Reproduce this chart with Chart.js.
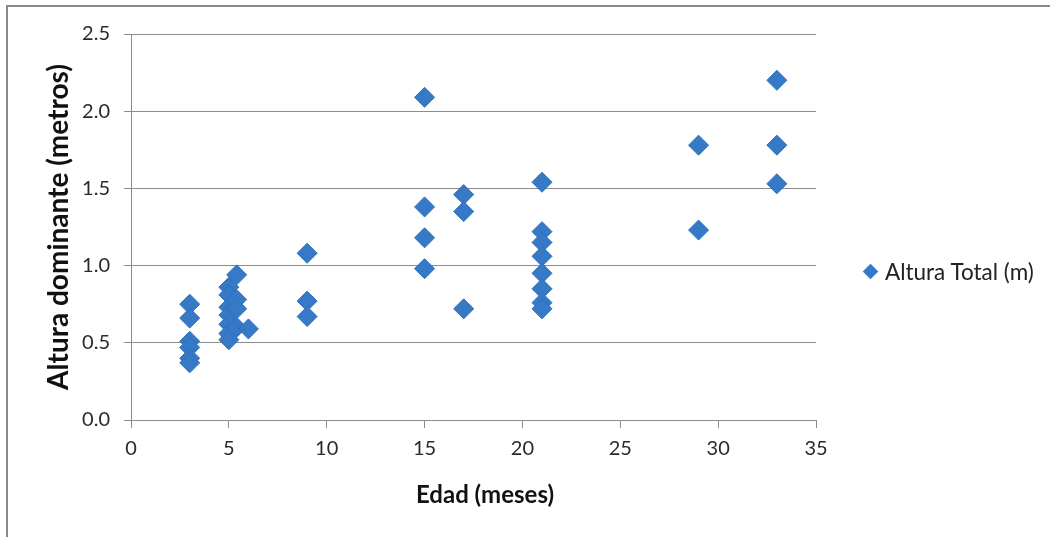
<!DOCTYPE html>
<html>
<head>
<meta charset="utf-8">
<script src="https://cdn.jsdelivr.net/npm/chart.js@4.4.0/dist/chart.umd.min.js"></script>
<style>
  html, body { margin: 0; padding: 0; background: #fff; }
  #wrap { position: relative; width: 1050px; height: 537px; overflow: hidden; }
  #frame { position: absolute; left: 6px; top: 5px; width: 1100px; height: 600px;
           border-top: 2px solid #8a8a8a; border-left: 2px solid #8a8a8a; }
  #chart { position: absolute; left: 0; top: 0; }
  #legend { position: absolute; left: 865px; top: 258px; font-family: Lato, sans-serif;
            font-size: 22.5px; color: #222; display: flex; align-items: center; }
  #legend .mark { width: 11px; height: 11px; background: #3679c6; transform: rotate(45deg);
                  margin-right: 9px; }
  #xtitle { position: absolute; left: 335px; width: 300px; top: 479px; line-height: 30px;
            text-align: center; font-family: Lato, sans-serif; font-weight: bold;
            font-size: 24px; color: #111; }
</style>
</head>
<body>
<div id="wrap">
  <div id="frame"></div>
  <canvas id="chart" width="1050" height="537"></canvas>
  <div id="legend"><div class="mark"></div><span>Altura Total (m)</span></div>
  <div id="xtitle">Edad (meses)</div>
</div>
<script>
// Edad (meses) y altura dominante (m) de cada punto
const edad = [
  3, 3, 3, 3, 3, 3,
  5, 5, 5, 5, 5, 5, 5,
  5.4, 5.4, 5.4, 5.4, 6,
  9, 9, 9,
  15, 15, 15, 15,
  17, 17, 17,
  21, 21, 21, 21, 21, 21, 21, 21,
  29, 29,
  33, 33, 33
];
const altura = [
  0.75, 0.66, 0.51, 0.47, 0.40, 0.37,
  0.86, 0.81, 0.73, 0.68, 0.62, 0.56, 0.52,
  0.94, 0.78, 0.72, 0.60, 0.59,
  1.08, 0.77, 0.67,
  2.09, 1.38, 1.18, 0.98,
  1.46, 1.35, 0.72,
  1.54, 1.22, 1.15, 1.06, 0.95, 0.85, 0.76, 0.72,
  1.78, 1.23,
  2.20, 1.78, 1.53
];
const serieNombre = 'Altura Total (m)';

const puntos = edad.map((x, i) => ({ x: x, y: altura[i] }));
const gris = '#8c8c8c';

new Chart(document.getElementById('chart').getContext('2d'), {
  type: 'scatter',
  data: {
    datasets: [{
      label: serieNombre,
      data: puntos,
      pointStyle: 'rectRot',
      pointRadius: 10,
      pointHoverRadius: 10,
      backgroundColor: '#3679c6',
      borderColor: '#2f70ba',
      borderWidth: 1,
    }],
  },
  options: {
    responsive: false,
    animation: false,
    layout: { padding: { left: 0, top: 34, right: 234, bottom: 0 } },
    plugins: {
      legend: { display: false },
      tooltip: { enabled: false },
    },
    scales: {
      x: {
        type: 'linear',
        min: 0,
        max: 35,
        ticks: {
          stepSize: 5,
          padding: 9,
          color: '#2a2a2a',
          font: { family: 'Lato', size: 20 },
        },
        grid: { drawOnChartArea: false, drawTicks: true, tickLength: 8, color: gris },
        border: { color: gris },
        // titulo del eje x va en el div #xtitle
        afterFit: scale => { scale.height = 117; },
      },
      y: {
        min: 0,
        max: 2.5,
        ticks: {
          stepSize: 0.5,
          padding: 14,
          color: '#2a2a2a',
          font: { family: 'Lato', size: 20 },
          callback: v => v.toFixed(1),
        },
        grid: { color: gris, tickLength: 7 },
        border: { color: gris },
        title: {
          display: true,
          text: 'Altura dominante (metros)',
          color: '#111',
          font: { family: 'Lato', size: 28, weight: 'bold' },
          padding: { top: 42, bottom: 0 },
        },
        afterFit: scale => { scale.width = 131; },
      },
    },
  },
});
</script>
</body>
</html>
